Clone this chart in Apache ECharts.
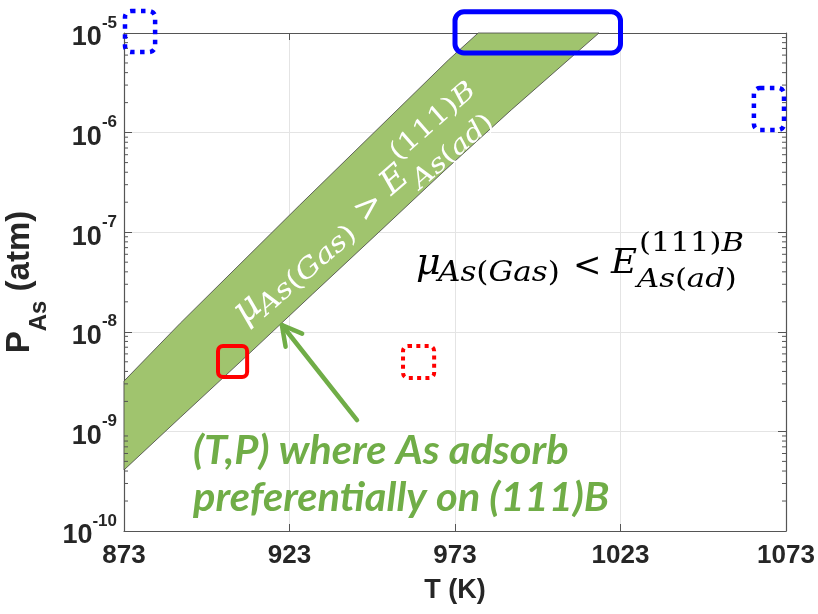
<!DOCTYPE html>
<html><head><meta charset="utf-8">
<script src="https://cdn.jsdelivr.net/npm/echarts@6/dist/echarts.min.js"></script>
<style>html,body{margin:0;padding:0;background:#fff}#c{width:818px;height:614px}</style>
</head><body><div id="c"></div>
<script>
// ---- data ----
const xTicks = [873, 923, 973, 1023, 1073];
const yMin = 1e-10, yMax = 1e-5;
// upper boundary of the green band (T in K, P in atm)
const upperT = [873, 890, 926, 971, 980];
const upperP = [3.2e-9, 1.22e-8, 1.86e-7, 5.36e-6, 1e-5];
// lower boundary of the green band
const lowerT = [873, 890, 910, 930, 950, 970, 990, 1016.5];
const lowerP = [4.1e-10, 1.38e-9, 5.7e-9, 2.4e-8, 1.0e-7, 4.2e-7, 1.69e-6, 1e-5];
// annotation boxes: [Tmin, Tmax, Pmin, Pmax]
const boxTop = [[873.3, 882.4, 6.44e-6, 1.66e-5], [973, 1023, 6.3e-6, 1.63e-5]];
const boxRight = [[1063.3, 1072.4, 1.06e-6, 2.81e-6]];
const boxRed = [[901.4, 910.2, 3.52e-9, 7.2e-9], [957.3, 966.7, 3.44e-9, 7.2e-9]];
// arrow: [T_from, P_from, T_to, P_to]
const arrowLine = [[943.4, 1.3e-9, 920.7, 1.17e-8]];

// ---- styles ----
const FONT = '"Liberation Sans", Arial, sans-serif';
const MATH = '"DejaVu Serif", serif';
const AX = '#262626';
const boxStyles = [
  {stroke:'#0000FF', lineWidth:4.5, lineDash:[4.5,5.5], r:6},
  {stroke:'#0000FF', lineWidth:5, lineDash:null, r:9},
  {stroke:'#0000FF', lineWidth:4.5, lineDash:[4.5,5.5], r:6},
  {stroke:'#FF0000', lineWidth:4, lineDash:null, r:5},
  {stroke:'#FF0000', lineWidth:4, lineDash:[4,4.3], r:5}
];
const boxes = boxTop.concat(boxRight, boxRed);

const minorVals = [];
for (let e = -10; e < -5; e++) for (let k = 2; k <= 9; k++) minorVals.push(k * Math.pow(10, e));

function formulaParts(color, rel) {
  function rich(sz) {
    return {i:{fontFamily:MATH, fontStyle:'italic', fontSize:sz, fill:color},
            n:{fontFamily:MATH, fontStyle:'normal', fontSize:sz, fill:color}};
  }
  const base = {fill: color, fontFamily: MATH, verticalAlign: 'middle', align: 'left'};
  function t(x, y, sx, style) {
    return {type:'text', x:x, y:y, scaleX:sx, z:100, style:Object.assign({}, base, style)};
  }
  return [
    t(-1, -12, 1, {text:'μ', fontSize:38, fontStyle:'italic'}),
    t(21, -2, 1.15, {text:'{i|As}{n|(}{i|Gas}{n|)}', fontSize:27, rich:rich(27)}),
    t(156, -9, 1, {text:rel, fontSize:34, fontStyle:'normal'}),
    t(194, -12, 1.05, {text:'E', fontSize:34, fontStyle:'italic'}),
    t(222, -32, 1.18, {text:'{n|(111)}{i|B}', fontSize:26, rich:rich(26)}),
    t(220, 4, 1.18, {text:'{i|As}{n|(}{i|ad}{n|)}', fontSize:26, rich:rich(26)})
  ];
}

const chart = echarts.init(document.getElementById('c'));
const option = {
  animation: false,
  backgroundColor: '#fff',
  grid: {left:124, right:32, top:33, bottom:83, containLabel:false, outerBoundsMode:'none'},
  xAxis: [{
    type:'value', min:873, max:1073, position:'bottom',
    name:'T (K)', nameLocation:'middle', nameGap:46,
    nameTextStyle:{fontFamily:FONT, fontWeight:'bold', fontSize:27, color:AX},
    axisLine:{lineStyle:{color:'#555', width:1.2}},
    axisTick:{inside:true, length:7, customValues:xTicks, lineStyle:{color:'#555'}},
    axisLabel:{customValues:xTicks, margin:12, fontFamily:FONT, fontWeight:'bold', fontSize:26, color:AX,
      formatter:function(v){ return String(Math.round(v)); }},
    splitLine:{show:true, lineStyle:{color:'#e4e4e4', width:1}}
  }, {
    type:'value', min:873, max:1073, position:'top',
    axisLine:{lineStyle:{color:'#555', width:1.2}},
    axisTick:{inside:true, length:7, customValues:xTicks, lineStyle:{color:'#555'}},
    axisLabel:{show:false}, splitLine:{show:false}
  }],
  yAxis: [{
    type:'log', logBase:10, min:yMin, max:yMax, position:'left',
    name:'{p|P}{s|As}{p| (atm)}{z|\u200b}', nameLocation:'middle', nameGap:68, nameRotate:90,
    nameTextStyle:{rich:{
      p:{fontFamily:FONT, fontWeight:'bold', fontSize:33, color:AX, lineHeight:33, verticalAlign:'top'},
      s:{fontFamily:FONT, fontWeight:'bold', fontSize:24, color:AX, lineHeight:24, verticalAlign:'bottom'},
      z:{fontSize:1, lineHeight:48}
    }},
    axisLine:{lineStyle:{color:'#555', width:1.2}},
    axisTick:{inside:true, length:8, lineStyle:{color:'#555'}},
    minorTick:{show:false},
    axisLabel:{margin:7, formatter:function(v){ return '{b|10}{s|' + Math.round(Math.log10(v)) + '}{z|\u200b}'; },
      rich:{
        b:{fontFamily:FONT, fontWeight:'bold', fontSize:27, lineHeight:27, color:AX, verticalAlign:'bottom'},
        s:{fontFamily:FONT, fontWeight:'bold', fontSize:17, lineHeight:27, color:AX, verticalAlign:'top'},
        z:{fontSize:1, lineHeight:37}
      }},
    splitLine:{show:true, lineStyle:{color:'#e4e4e4', width:1}}
  }, {
    type:'log', logBase:10, min:yMin, max:yMax, position:'right',
    axisLine:{lineStyle:{color:'#555', width:1.2}},
    axisTick:{inside:true, length:8, lineStyle:{color:'#555'}},
    axisLabel:{show:false}, splitLine:{show:false}
  }],
  series: [
    {
      type:'custom', name:'band', coordinateSystem:'cartesian2d', xAxisIndex:0, yAxisIndex:0,
      data:[[upperT[0], upperP[0]]], silent:true, z:2,
      renderItem:function(params, api){
        const pts = [];
        for (let i = 0; i < upperT.length; i++) pts.push(api.coord([upperT[i], upperP[i]]));
        for (let i = lowerT.length - 1; i >= 0; i--) pts.push(api.coord([lowerT[i], lowerP[i]]));
        return {type:'polygon', shape:{points:pts}, style:{fill:'#A0C46E', stroke:'#444', lineWidth:0.8}};
      }
    },
    {
      type:'custom', name:'minorTicks', coordinateSystem:'cartesian2d', clip:false, silent:true, z:3,
      data:minorVals.map(v => [873, v]),
      renderItem:function(params, api){
        const v = api.value(1);
        const a = api.coord([873, v]), b = api.coord([1073, v]);
        const st = {stroke:'#555', lineWidth:1};
        return {type:'group', children:[
          {type:'line', shape:{x1:a[0], y1:a[1], x2:a[0]+4, y2:a[1]}, style:st},
          {type:'line', shape:{x1:b[0]-4, y1:b[1], x2:b[0], y2:b[1]}, style:st}
        ]};
      }
    },
    {
      type:'custom', name:'boxes', coordinateSystem:'cartesian2d', clip:false, silent:true, z:5,
      data:boxes, encode:{x:[0,1], y:[2,3]},
      renderItem:function(params, api){
        const s = boxStyles[params.dataIndex];
        const a = api.coord([api.value(0), api.value(3)]);
        const b = api.coord([api.value(1), api.value(2)]);
        return {type:'rect', shape:{x:a[0], y:a[1], width:b[0]-a[0], height:b[1]-a[1], r:s.r},
          style:{fill:'none', stroke:s.stroke, lineWidth:s.lineWidth, lineDash:s.lineDash, lineCap:'butt'}};
      }
    },
    {
      type:'custom', name:'arrow', coordinateSystem:'cartesian2d', clip:false, silent:true, z:5,
      data:arrowLine, encode:{x:[0,2], y:[1,3]},
      renderItem:function(params, api){
        const p0 = api.coord([api.value(0), api.value(1)]);
        const p1 = api.coord([api.value(2), api.value(3)]);
        const ang = Math.atan2(p1[1]-p0[1], p1[0]-p0[0]);
        const L = 22, w = 0.5;
        const h1 = [p1[0] - L*Math.cos(ang - w), p1[1] - L*Math.sin(ang - w)];
        const h2 = [p1[0] - L*Math.cos(ang + w), p1[1] - L*Math.sin(ang + w)];
        const st = {stroke:'#70AD47', lineWidth:4.5, lineCap:'round', lineJoin:'round', fill:'none'};
        return {type:'group', children:[
          {type:'line', shape:{x1:p0[0], y1:p0[1], x2:p1[0], y2:p1[1]}, style:st},
          {type:'polyline', shape:{points:[h1, p1, h2]}, style:st}
        ]};
      }
    }
  ],
  graphic: [
    {type:'group', x:417, y:276, z:100, children:formulaParts('#000', '<')},
    {type:'group', x:247, y:326, rotation:0.7156, z:100, children:formulaParts('#fff', '>')},
    {type:'text', x:193, y:451, z:100, scaleX:1.04, style:{text:'(T,P) where As adsorb', fontFamily:'Lato, "Open Sans", sans-serif',
      fontWeight:'bold', fontStyle:'italic', fontSize:40, fill:'#70AD47', verticalAlign:'middle', align:'left'}},
    {type:'text', x:193, y:498, z:100, scaleX:1.04, style:{text:'preferentially on (111)B', fontFamily:'Lato, "Open Sans", sans-serif',
      fontWeight:'bold', fontStyle:'italic', fontSize:40, fill:'#70AD47', verticalAlign:'middle', align:'left'}}
  ]
};
chart.setOption(option);
</script>
</body></html>
